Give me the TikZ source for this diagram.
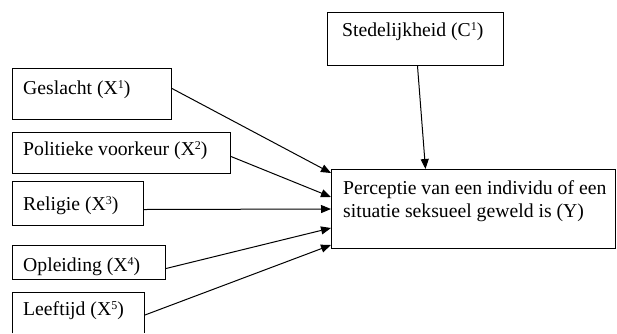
\documentclass[tikz,border=0pt]{standalone}
\usepackage{fontspec}
\setmainfont{Liberation Serif}
\usetikzlibrary{arrows.meta}
\newcommand\mysup[1]{\raisebox{0.3em}{\fontsize{12}{12}\selectfont #1}}
\begin{document}
\begin{tikzpicture}[x=1pt,y=-1pt,
  box/.style={draw, line width=1pt, inner sep=0pt, anchor=north west},
  txt/.style={anchor=base west, inner sep=0pt, font=\fontsize{19.7}{23}\selectfont, align=left},
  arr/.style={line width=1pt, -{Triangle[length=10pt,width=8pt]}}]
\useasboundingbox (0,0) rectangle (617,333);
% boxes
\node[box, minimum width=176pt, minimum height=53pt] (c) at (327,12) {};
\node[box, minimum width=284pt, minimum height=79pt] (y) at (331,169) {};
\node[box, minimum width=159pt, minimum height=51pt] (g) at (12,68) {};
\node[box, minimum width=218pt, minimum height=41pt] (p) at (12,132) {};
\node[box, minimum width=131pt, minimum height=44pt] (r) at (12,181) {};
\node[box, minimum width=153pt, minimum height=34pt] (o) at (12,245) {};
\node[inner sep=0pt, anchor=north west, minimum width=132pt, minimum height=41pt] (l) at (12,292) {};
\draw[line width=1pt] (l.south west) -- (l.north west) -- (l.north east) -- (l.south east);
% texts
\node[txt] (ct) at (342,36) {Stedelijkheid (C\mysup{1})};
\node[txt] (yt) at (343,217) {Perceptie van een individu of een\\situatie seksueel geweld is (Y)};
\node[txt] (gt) at (23,94) {Geslacht (X\mysup{1})};
\node[txt] (pt) at (23,155) {Politieke voorkeur (X\mysup{2})};
\node[txt] (rt) at (23,210) {Religie (X\mysup{3})};
\node[txt] (ot) at (23,271) {Opleiding (X\mysup{4})};
\node[txt] (lt) at (23,315) {Leeftijd (X\mysup{5})};
% arrows
\draw[arr] ([yshift=5.5pt]g.east) -- ([yshift=-4pt]y.north west);
\draw[arr] ([yshift=-3.5pt]p.east) -- ([yshift=-28pt]y.north west);
\draw[arr] ([yshift=-6pt]r.east) -- ([yshift=-40pt]y.north west);
\draw[arr] ([yshift=-6pt]o.east) -- ([yshift=-59pt]y.north west);
\draw[arr] ([yshift=-2.5pt]l.east) -- ([yshift=-76pt]y.north west);
\draw[arr] ([xshift=2pt]c.south) -- ([xshift=-48pt]y.north);
\end{tikzpicture}
\end{document}
